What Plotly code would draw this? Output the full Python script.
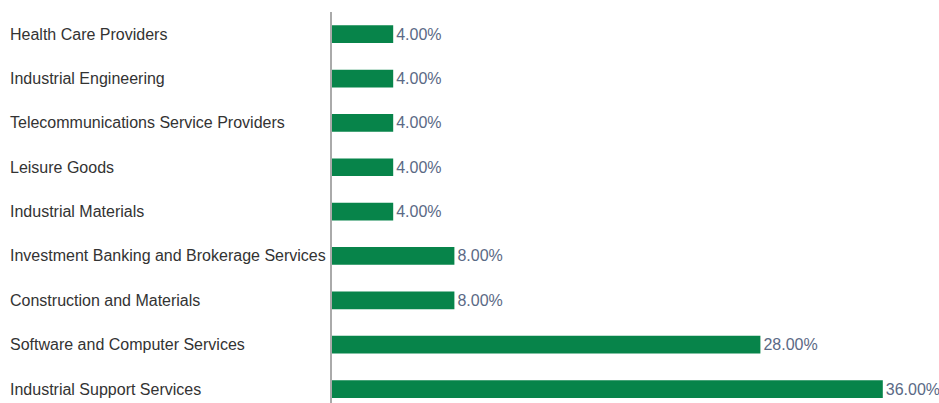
import plotly.graph_objects as go

categories = [
    "Industrial Support Services",
    "Software and Computer Services",
    "Construction and Materials",
    "Investment Banking and Brokerage Services",
    "Industrial Materials",
    "Leisure Goods",
    "Telecommunications Service Providers",
    "Industrial Engineering",
    "Health Care Providers",
]
values = [36.0, 28.0, 8.0, 8.0, 4.0, 4.0, 4.0, 4.0, 4.0]
value_labels = [f"{v:.2f}%" for v in values]

W, H = 939, 403
ML, MR, MT, MB = 332, 0, 12, 0
plot_w = W - ML - MR
px_per_unit = 15.3
x_max = plot_w / px_per_unit

FONT = "Liberation Sans, Arial, sans-serif"

fig = go.Figure(go.Bar(
    y=categories,
    x=values,
    orientation="h",
    marker=dict(color="#07844a", line=dict(width=0)),
    text=value_labels,
    textposition="outside",
    textfont=dict(family=FONT, size=16, color="#5a6985"),
    cliponaxis=False,
    hoverinfo="skip",
))

annotations = []
for c in categories:
    annotations.append(dict(
        x=(8 - ML) / plot_w, xref="paper", xanchor="left",
        y=c, yref="y", yanchor="middle",
        text=c, showarrow=False,
        font=dict(family=FONT, size=16, color="#333333"),
    ))

fig.update_layout(
    width=W, height=H,
    margin=dict(l=ML, r=MR, t=MT, b=MB, pad=0),
    paper_bgcolor="white", plot_bgcolor="white",
    bargap=0.6,
    showlegend=False,
    xaxis=dict(range=[0, x_max], showgrid=False, zeroline=False, showticklabels=False, showline=False),
    yaxis=dict(range=[-0.315, 8.5], showgrid=False, zeroline=False, showticklabels=False,
               showline=True, linecolor="#aaaaaa", linewidth=1.5, type="category"),
    annotations=annotations,
)

fig.write_html(
    "out.html",
    config={"displayModeBar": False},
    post_script="document.body.style.margin='0';document.body.style.overflow='hidden';",
)
